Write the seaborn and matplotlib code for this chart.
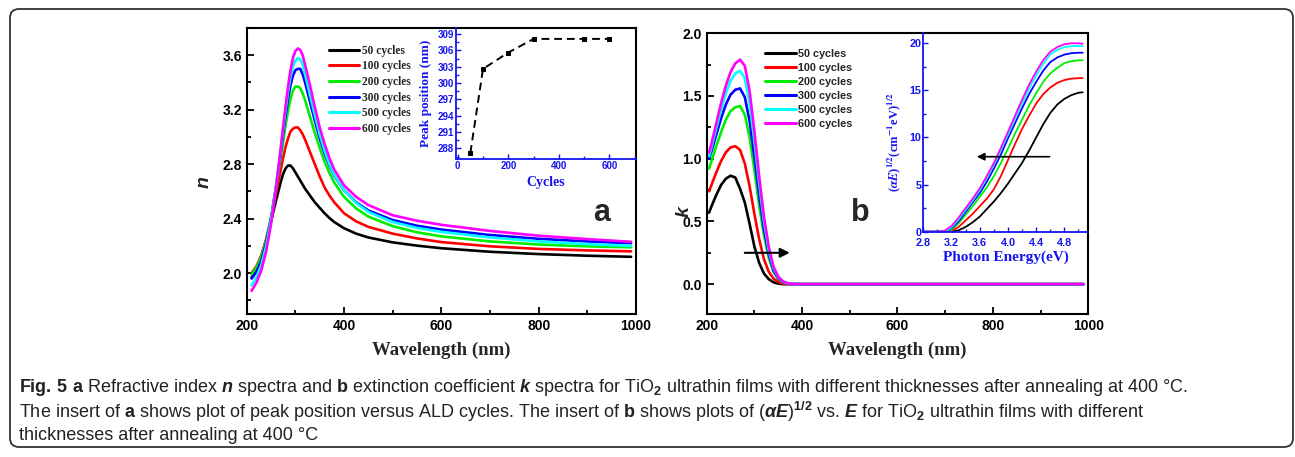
import numpy as np
import pandas as pd
import matplotlib
matplotlib.use('Agg')
import matplotlib.pyplot as plt
import seaborn as sns
from matplotlib.patches import FancyBboxPatch
from matplotlib.lines import Line2D
from matplotlib.ticker import MultipleLocator, FormatStrFormatter

sns.set_style('ticks')
plt.rcParams['font.family'] = ['Liberation Sans', 'DejaVu Sans']
plt.rcParams['font.weight'] = 'bold'
plt.rcParams['axes.labelweight'] = 'bold'
plt.rcParams['mathtext.fontset'] = 'custom'
plt.rcParams['mathtext.rm'] = 'Liberation Sans'
plt.rcParams['mathtext.it'] = 'Liberation Sans:italic'
plt.rcParams['mathtext.bf'] = 'Liberation Sans:bold'

series = ['50 cycles', '100 cycles', '200 cycles', '300 cycles', '500 cycles', '600 cycles']
colors = ['#000000', '#ff0000', '#00ee00', '#0000ff', '#00ffff', '#ff00ff']
blue = '#1414f0'

# panel a: refractive index n vs wavelength (nm)
wl_n = [210, 220, 230, 240, 250, 260, 270, 275, 280, 285, 290, 295, 300, 305, 310, 315, 320,
        330, 340, 350, 360, 370, 380, 400, 425, 450, 500, 550, 600, 700, 800, 900, 990]
n_50 = [1.97, 2.03, 2.12, 2.24, 2.38, 2.53, 2.67, 2.73, 2.77, 2.79, 2.79, 2.77, 2.74, 2.71, 2.68, 2.65, 2.62,
        2.57, 2.52, 2.48, 2.44, 2.405, 2.375, 2.33, 2.29, 2.262, 2.226, 2.202, 2.183, 2.157, 2.14, 2.128, 2.12]
n_100 = [2.00, 2.05, 2.13, 2.25, 2.40, 2.58, 2.76, 2.85, 2.93, 2.99, 3.04, 3.06, 3.07, 3.07, 3.05, 3.02, 2.98,
         2.89, 2.80, 2.71, 2.63, 2.57, 2.52, 2.44, 2.38, 2.34, 2.29, 2.255, 2.228, 2.197, 2.178, 2.167, 2.16]
n_200 = [1.99, 2.04, 2.12, 2.24, 2.41, 2.62, 2.85, 2.97, 3.09, 3.19, 3.28, 3.34, 3.37, 3.37, 3.36, 3.32, 3.27,
         3.15, 3.03, 2.92, 2.82, 2.735, 2.665, 2.56, 2.475, 2.415, 2.345, 2.30, 2.27, 2.233, 2.21, 2.197, 2.19]
n_300 = [1.96, 2.01, 2.09, 2.22, 2.40, 2.63, 2.89, 3.03, 3.16, 3.28, 3.38, 3.45, 3.49, 3.50, 3.50, 3.46, 3.40,
         3.26, 3.12, 2.99, 2.88, 2.79, 2.715, 2.61, 2.52, 2.46, 2.39, 2.348, 2.32, 2.28, 2.252, 2.233, 2.22]
n_500 = [1.91, 1.97, 2.06, 2.20, 2.39, 2.63, 2.91, 3.06, 3.20, 3.33, 3.44, 3.52, 3.56, 3.58, 3.57, 3.53, 3.46,
         3.31, 3.16, 3.02, 2.90, 2.80, 2.72, 2.61, 2.515, 2.45, 2.375, 2.332, 2.303, 2.262, 2.233, 2.213, 2.20]
n_600 = [1.87, 1.93, 2.02, 2.16, 2.36, 2.62, 2.92, 3.08, 3.23, 3.37, 3.49, 3.58, 3.63, 3.65, 3.64, 3.60, 3.53,
         3.38, 3.22, 3.07, 2.95, 2.845, 2.76, 2.645, 2.56, 2.50, 2.425, 2.385, 2.355, 2.31, 2.275, 2.25, 2.23]

# inset a: peak position vs ALD cycles
cycles = [50, 100, 200, 300, 500, 600]
peak_pos = [287.2, 302.6, 305.6, 308.1, 308.1, 308.1]

# panel b: extinction coefficient k vs wavelength (nm)
wl_k = [205, 210, 220, 230, 240, 250, 260, 270, 280, 290, 300, 310, 320, 330, 340, 350, 360, 370,
        380, 390, 400, 500, 600, 700, 800, 900, 990]
k_50 = [0.57, 0.62, 0.71, 0.79, 0.84, 0.865, 0.85, 0.76, 0.65, 0.48, 0.30, 0.17, 0.085, 0.04, 0.015, 0.004, 0.0, 0.0,
        0.0, 0.0, 0.0, 0.0, 0.0, 0.0, 0.0, 0.0, 0.0]
k_100 = [0.74, 0.79, 0.89, 0.98, 1.05, 1.09, 1.10, 1.07, 0.96, 0.78, 0.56, 0.36, 0.20, 0.10, 0.045, 0.017, 0.005, 0.001,
         0.0, 0.0, 0.0, 0.0, 0.0, 0.0, 0.0, 0.0, 0.0]
k_200 = [0.92, 0.98, 1.10, 1.21, 1.31, 1.38, 1.41, 1.42, 1.35, 1.17, 0.91, 0.63, 0.39, 0.21, 0.10, 0.042, 0.015, 0.004,
         0.001, 0.0, 0.0, 0.0, 0.0, 0.0, 0.0, 0.0, 0.0]
k_300 = [1.00, 1.06, 1.19, 1.32, 1.43, 1.51, 1.55, 1.56, 1.49, 1.30, 1.02, 0.71, 0.44, 0.24, 0.11, 0.046, 0.017, 0.005,
         0.001, 0.0, 0.0, 0.0, 0.0, 0.0, 0.0, 0.0, 0.0]
k_500 = [1.02, 1.09, 1.24, 1.39, 1.52, 1.62, 1.68, 1.70, 1.64, 1.44, 1.14, 0.80, 0.50, 0.27, 0.13, 0.054, 0.02, 0.006,
         0.0015, 0.0, 0.0, 0.0, 0.0, 0.0, 0.0, 0.0, 0.0]
k_600 = [1.05, 1.12, 1.28, 1.44, 1.58, 1.69, 1.76, 1.79, 1.74, 1.54, 1.22, 0.86, 0.54, 0.30, 0.14, 0.06, 0.022, 0.007,
         0.002, 0.0005, 0.0, 0.0, 0.0, 0.0, 0.0, 0.0, 0.0]

# inset b: (alpha E)^1/2 vs photon energy (eV)
energy = [2.8, 3.0, 3.1, 3.2, 3.3, 3.4, 3.5, 3.6, 3.7, 3.8, 3.9, 4.0, 4.1, 4.2, 4.3, 4.4, 4.5, 4.6,
          4.7, 4.8, 4.9, 5.0, 5.06]
t_50 = [0, 0, 0, 0, 0.15, 0.5, 1.0, 1.6, 2.4, 3.2, 4.1, 5.1, 6.2, 7.3, 8.6, 10.0, 11.4, 12.6,
        13.5, 14.1, 14.5, 14.75, 14.8]
t_100 = [0, 0, 0, 0.05, 0.5, 1.2, 1.9, 2.7, 3.5, 4.5, 5.9, 7.6, 9.3, 10.9, 12.3, 13.6, 14.6, 15.3,
         15.8, 16.1, 16.25, 16.3, 16.3]
t_200 = [0, 0, 0, 0.2, 0.9, 1.8, 2.7, 3.7, 4.7, 5.9, 7.3, 8.8, 10.4, 11.9, 13.4, 14.7, 15.9, 16.8,
         17.4, 17.9, 18.1, 18.2, 18.2]
t_300 = [0, 0, 0, 0.35, 1.1, 2.1, 3.1, 4.1, 5.3, 6.7, 8.2, 9.9, 11.5, 13.1, 14.6, 15.9, 17.1, 18.0,
         18.5, 18.8, 18.95, 19.0, 19.0]
t_500 = [0, 0, 0, 0.45, 1.3, 2.3, 3.3, 4.4, 5.7, 7.1, 8.7, 10.3, 12.0, 13.6, 15.2, 16.6, 17.8, 18.8,
         19.3, 19.6, 19.7, 19.7, 19.7]
t_600 = [0, 0, 0.1, 0.6, 1.5, 2.5, 3.5, 4.6, 5.9, 7.3, 8.9, 10.6, 12.3, 14.0, 15.6, 17.0, 18.2, 19.1,
         19.6, 19.9, 20.0, 20.0, 19.95]

df_n = pd.DataFrame({'wl': wl_n * 6, 'n': n_50 + n_100 + n_200 + n_300 + n_500 + n_600,
                     'series': np.repeat(series, len(wl_n))})
df_k = pd.DataFrame({'wl': wl_k * 6, 'k': k_50 + k_100 + k_200 + k_300 + k_500 + k_600,
                     'series': np.repeat(series, len(wl_k))})
df_t = pd.DataFrame({'E': energy * 6, 't': t_50 + t_100 + t_200 + t_300 + t_500 + t_600,
                     'series': np.repeat(series, len(energy))})

fig = plt.figure(figsize=(12.95, 4.57), dpi=100)


def style_main(ax):
    for s in ax.spines.values():
        s.set_linewidth(1.5)
        s.set_color('k')
    ax.tick_params(which='both', direction='in', width=1.3, labelsize=10, colors='k',
                   top=False, right=False)
    ax.tick_params(which='major', length=5)
    ax.tick_params(which='minor', length=3)


def style_inset(ax, size):
    ax.set_facecolor('none')
    ax.spines['top'].set_visible(False)
    ax.spines['right'].set_visible(False)
    for s in ['left', 'bottom']:
        ax.spines[s].set_color(blue)
        ax.spines[s].set_linewidth(1.3)
    ax.tick_params(which='both', direction='in', color=blue, labelcolor=blue,
                   labelsize=size, width=1.0, pad=1.5)
    ax.tick_params(which='major', length=3.5)
    ax.tick_params(which='minor', length=2)


handles = [Line2D([], [], color=c, lw=2.2) for c in colors]

# ---- panel a
ax1 = fig.add_axes([0.1905, 0.3129, 0.3006, 0.6258])
sns.lineplot(data=df_n, x='wl', y='n', hue='series', hue_order=series, palette=colors,
             estimator=None, lw=1.9, legend=False, ax=ax1)
ax1.set_xlim(200, 1000)
ax1.set_ylim(1.7, 3.8)
ax1.xaxis.set_major_locator(MultipleLocator(200))
ax1.xaxis.set_minor_locator(MultipleLocator(100))
ax1.yaxis.set_major_locator(MultipleLocator(0.4))
ax1.yaxis.set_minor_locator(MultipleLocator(0.2))
ax1.yaxis.set_major_formatter(FormatStrFormatter('%.1f'))
style_main(ax1)
ax1.set_xlabel('Wavelength (nm)', family='Liberation Serif', fontsize=13.5, labelpad=6)
ax1.set_ylabel('n', style='italic', fontsize=14)
ax1.yaxis.set_label_coords(-0.087, 0.46)
ax1.legend(handles, series, loc='upper left', bbox_to_anchor=(0.212, 0.942), frameon=False,
           prop={'family': 'Liberation Serif', 'weight': 'bold', 'size': 8.3},
           handlelength=2.6, handletextpad=0.2, labelspacing=0.32, borderpad=0, borderaxespad=0)
ax1.text(0.912, 0.353, 'a', transform=ax1.transAxes, fontsize=22, ha='center', va='center')

# inset a
axa = fig.add_axes([0.3519, 0.6514, 0.1392, 0.2873])
sns.lineplot(x=cycles, y=peak_pos, ax=axa, color='k', lw=1.4, linestyle='--', marker='s',
             markersize=3.5, markeredgecolor='k', markerfacecolor='k')
axa.lines[0].set_linestyle((0, (4, 2.5)))
axa.set_xlim(-8, 705)
axa.set_ylim(286, 310.1)
axa.xaxis.set_major_locator(MultipleLocator(200))
axa.xaxis.set_minor_locator(MultipleLocator(100))
axa.yaxis.set_major_locator(MultipleLocator(3))
axa.yaxis.set_minor_locator(MultipleLocator(1.5))
style_inset(axa, 7)
axa.set_xlabel('Cycles', family='Liberation Serif', color=blue, fontsize=10, labelpad=3)
axa.set_ylabel('Peak position (nm)', family='Liberation Serif', color=blue, fontsize=9.5)
axa.yaxis.set_label_coords(-0.131, 0.5)

# ---- panel b
ax2 = fig.add_axes([0.5457, 0.3123, 0.2947, 0.6149])
sns.lineplot(data=df_k, x='wl', y='k', hue='series', hue_order=series, palette=colors,
             estimator=None, lw=1.9, legend=False, ax=ax2)
ax2.set_xlim(200, 1000)
ax2.set_ylim(-0.24, 2.0)
ax2.xaxis.set_major_locator(MultipleLocator(200))
ax2.xaxis.set_minor_locator(MultipleLocator(100))
ax2.yaxis.set_major_locator(MultipleLocator(0.5))
ax2.yaxis.set_minor_locator(MultipleLocator(0.25))
ax2.yaxis.set_major_formatter(FormatStrFormatter('%.1f'))
style_main(ax2)
ax2.set_xlabel('Wavelength (nm)', family='Liberation Serif', fontsize=13.5, labelpad=6)
ax2.set_ylabel('k', style='italic', fontsize=14)
ax2.yaxis.set_label_coords(-0.036, 0.367)
ax2.legend(handles, series, loc='upper left', bbox_to_anchor=(0.152, 0.944), frameon=False,
           prop={'family': 'Liberation Sans', 'weight': 'bold', 'size': 7.8},
           handlelength=2.9, handletextpad=0.2, labelspacing=0.37, borderpad=0, borderaxespad=0)
ax2.text(0.402, 0.36, 'b', transform=ax2.transAxes, fontsize=22, ha='center', va='center')
ax2.annotate('', xy=(380, 0.25), xytext=(274, 0.25),
             arrowprops=dict(arrowstyle='-|>', color='k', lw=1.5, mutation_scale=14))

# inset b
axb = fig.add_axes([0.713, 0.493, 0.1274, 0.4341])
sns.lineplot(data=df_t, x='E', y='t', hue='series', hue_order=series, palette=colors,
             estimator=None, lw=1.3, legend=False, ax=axb)
axb.set_xlim(2.8, 5.14)
axb.set_ylim(0, 21.06)
axb.xaxis.set_major_locator(MultipleLocator(0.4))
axb.xaxis.set_minor_locator(MultipleLocator(0.2))
axb.yaxis.set_major_locator(MultipleLocator(5))
axb.yaxis.set_minor_locator(MultipleLocator(2.5))
axb.xaxis.set_major_formatter(FormatStrFormatter('%.1f'))
style_inset(axb, 7.8)
axb.tick_params(axis='x', pad=4.5)
axb.set_xlabel('Photon Energy(eV)', family='Liberation Serif', color=blue, fontsize=11, labelpad=2)
axb.set_ylabel(r'($\alpha E$)$^{\mathbf{1/2}}$(cm$^{\mathbf{-1}}$eV)$^{\mathbf{1/2}}$',
               family='Liberation Serif', color=blue, fontsize=9, math_fontfamily='stix')
axb.yaxis.set_label_coords(-0.125, 0.45)
axb.annotate('', xy=(3.52, 7.96), xytext=(4.63, 7.96),
             arrowprops=dict(arrowstyle='-|>', color='k', lw=1.2, mutation_scale=11))

# ---- caption and frame
line1 = (r'$\mathbf{Fig.\,5\ a}$ Refractive index $\mathit{n}$ spectra and $\mathbf{b}$ extinction coefficient '
         r'$\mathit{k}$ spectra for TiO$_2$ ultrathin films with different thicknesses after annealing at 400 °C.')
line2 = (r'The insert of $\mathbf{a}$ shows plot of peak position versus ALD cycles. The insert of $\mathbf{b}$ '
         r'shows plots of ($\mathit{\alpha E}$)$^{1/2}$ vs. $\mathit{E}$ for TiO$_2$ ultrathin films with different')
line3 = 'thicknesses after annealing at 400 °C'
for i, line in enumerate([line1, line2, line3]):
    fig.text(0.0147, 1 - (388 + 23.5 * i) / 457, line, family=['Liberation Sans', 'DejaVu Sans'],
             fontweight='normal', fontsize=13, va='center', ha='left', color='#222222')

frame = FancyBboxPatch((10, 10), 1283, 438, boxstyle='round,pad=0,rounding_size=9',
                       transform=None, fill=False, edgecolor='#333333', lw=1.3)
fig.add_artist(frame)

fig.savefig('out.png', dpi=100)
